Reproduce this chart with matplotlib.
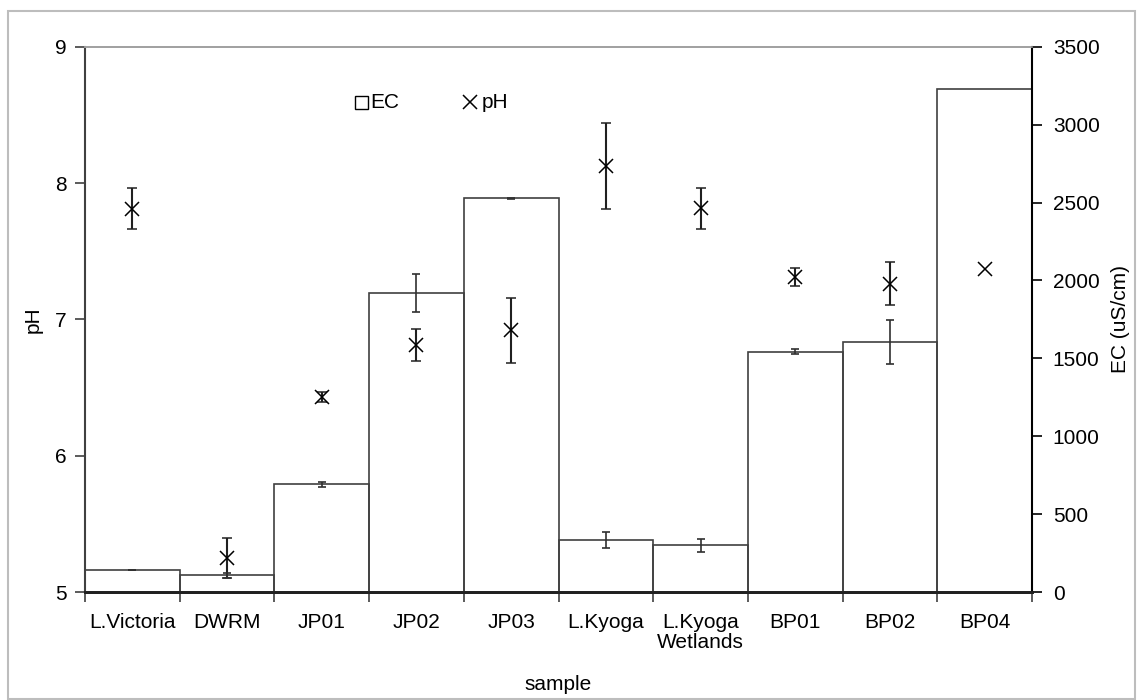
import matplotlib
matplotlib.use("Agg")
import matplotlib.pyplot as plt
import numpy as np
from matplotlib.patches import Rectangle
from matplotlib.lines import Line2D

plt.rcParams['font.family'] = ['Liberation Sans', 'DejaVu Sans']

samples = ["L.Victoria", "DWRM", "JP01", "JP02", "JP03", "L.Kyoga",
           "L.Kyoga\nWetlands", "BP01", "BP02", "BP04"]
ec_mean = [141, 107, 691, 1919, 2527, 334, 300, 1542, 1605, 3230]
ec_err = [2, 18, 17, 119, 5, 51, 43, 17, 141, 0]
ph_mean = [7.81, 5.25, 6.43, 6.81, 6.92, 8.125, 7.815, 7.31, 7.26, 7.37]
ph_err = [0.15, 0.147, 0.037, 0.116, 0.24, 0.314, 0.15, 0.064, 0.158, 0.0]

FS = 15

fig = plt.figure(figsize=(11.43, 7.0), dpi=100)
fig.patches.append(Rectangle((8 / 1143, 1 / 700), 1127 / 1143, 688 / 700,
                             transform=fig.transFigure, fill=False,
                             edgecolor='#bdbdbd', linewidth=1.5))

ax = fig.add_axes([85 / 1143, 1 - 592 / 700, (1032 - 85) / 1143, (592 - 46.7) / 700])
ax2 = ax.twinx()

x = np.arange(len(samples))
ax2.bar(x, ec_mean, width=1.0, facecolor='none', edgecolor='#404040', linewidth=1.2)
ec_err_plot = [e if e > 0 else np.nan for e in ec_err]
ax2.errorbar(x, ec_mean, yerr=ec_err_plot, fmt='none', ecolor='#303030',
             elinewidth=1.2, capsize=3, capthick=1.2)

ph_err_plot = [e if e > 0 else np.nan for e in ph_err]
ax.errorbar(x, ph_mean, yerr=ph_err_plot, fmt='x', color='black', ms=10.5, mew=1.1,
            ecolor='#202020', elinewidth=1.5, capsize=3.3, capthick=1.5)

ax.set_xlim(-0.5, len(samples) - 0.5)
ax.set_ylim(5, 9)
ax.set_yticks([5, 6, 7, 8, 9])
ax2.set_ylim(0, 3500)
ax2.set_yticks(np.arange(0, 3501, 500))

ax.set_xticks(np.arange(-0.5, len(samples), 1.0))
ax.set_xticklabels([])
ax.set_xticks(x, minor=True)
ax.set_xticklabels(samples, minor=True, fontsize=FS, linespacing=1.1)
ax.tick_params(axis='x', which='minor', length=0, pad=15)
ax.tick_params(axis='x', which='major', length=7, width=1.2, color='#404040')
ax.tick_params(axis='y', length=7, width=1.2, labelsize=FS, color='#404040', pad=6)
ax2.tick_params(axis='y', length=7, width=1.2, labelsize=FS, pad=8)

for a in (ax, ax2):
    a.spines['top'].set_color('#a0a0a0')
    a.spines['top'].set_linewidth(1.2)
ax.spines['left'].set_color('#404040')
ax.spines['left'].set_linewidth(1.5)
ax2.spines['left'].set_visible(False)
ax.spines['right'].set_visible(False)
ax2.spines['right'].set_color('black')
ax2.spines['right'].set_linewidth(1.5)
for a in (ax, ax2):
    a.spines['bottom'].set_color('#202020')
    a.spines['bottom'].set_linewidth(2.0)

ax.set_ylabel("pH", fontsize=FS, labelpad=9)
ax2.set_ylabel("EC (uS/cm)", fontsize=FS, labelpad=8)
ax.set_xlabel("sample", fontsize=FS, labelpad=16)

# legend without frame
ly = 1 - 102 / 700
fig.patches.append(Rectangle((355 / 1143, 1 - 109 / 700), 13 / 1143, 13 / 700,
                             transform=fig.transFigure, fill=False,
                             edgecolor='black', linewidth=1.0))
fig.text(370 / 1143, ly, "EC", fontsize=FS, ha='left', va='center')
fig.lines.append(Line2D([470 / 1143], [ly], marker='x', ms=10.5, mew=1.1,
                        color='black', transform=fig.transFigure))
fig.text(482 / 1143, ly, "pH", fontsize=FS, ha='left', va='center')

fig.savefig("out.png", dpi=100)
